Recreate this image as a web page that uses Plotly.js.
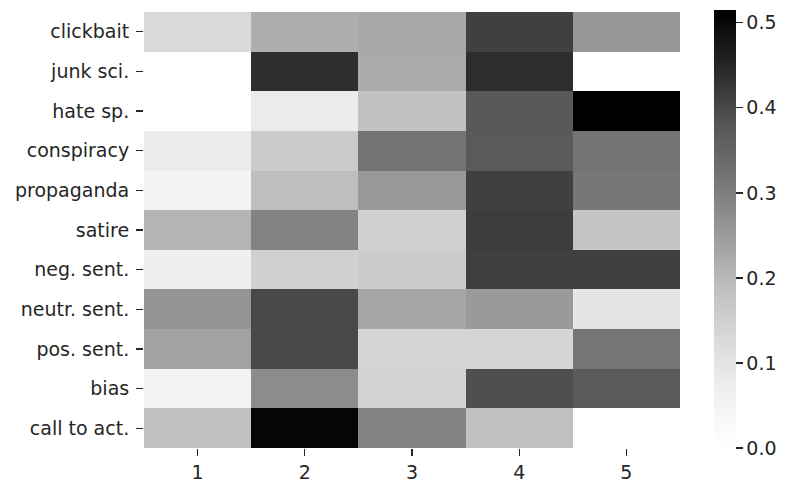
<!DOCTYPE html>
<html>
<head>
<meta charset="utf-8">
<script src="https://cdn.plot.ly/plotly-3.0.1.min.js"></script>
<style>html,body{margin:0;padding:0;background:#fff;}#chart{width:786px;height:488px;}</style>
</head>
<body>
<div id="chart"></div>
<script>
const columns = ['1', '2', '3', '4', '5'];
const rowLabels = ['clickbait', 'junk sci.', 'hate sp.', 'conspiracy', 'propaganda', 'satire',
  'neg. sent.', 'neutr. sent.', 'pos. sent.', 'bias', 'call to act.'];
const clickbait   = [0.129, 0.220, 0.228, 0.412, 0.258];
const junkSci     = [0.000, 0.438, 0.225, 0.439, 0.000];
const hateSp      = [0.000, 0.078, 0.182, 0.374, 0.515];
const conspiracy  = [0.076, 0.163, 0.322, 0.371, 0.322];
const propaganda  = [0.052, 0.191, 0.253, 0.412, 0.315];
const satire      = [0.207, 0.294, 0.149, 0.416, 0.177];
const negSent     = [0.067, 0.149, 0.159, 0.412, 0.412];
const neutrSent   = [0.261, 0.399, 0.233, 0.251, 0.095];
const posSent     = [0.238, 0.399, 0.138, 0.138, 0.318];
const bias        = [0.052, 0.276, 0.143, 0.391, 0.369];
const callToAct   = [0.186, 0.506, 0.292, 0.184, 0.000];
const colorbarTicks = [0.0, 0.1, 0.2, 0.3, 0.4, 0.5];

const z = [clickbait, junkSci, hateSp, conspiracy, propaganda, satire,
  negSent, neutrSent, posSent, bias, callToAct];

const greys = [[0,'#ffffff'],[0.125,'#f0f0f0'],[0.25,'#d9d9d9'],[0.375,'#bdbdbd'],
  [0.5,'#969696'],[0.625,'#737373'],[0.75,'#525252'],[0.875,'#252525'],[1,'#000000']];

const tickFont = {family: 'DejaVu Sans, sans-serif', size: 19, color: '#262626'};

const trace = {
  type: 'heatmap',
  x: columns,
  y: rowLabels,
  z: z,
  zmin: 0,
  zmax: 0.515,
  colorscale: greys,
  xgap: 0, ygap: 0,
  hoverongaps: false,
  colorbar: {
    xref: 'container', x: 714/786, xanchor: 'left', xpad: 0,
    yref: 'paper', y: 0, yanchor: 'bottom', len: 1.005, lenmode: 'fraction', ypad: 0,
    thickness: 22, outlinewidth: 0,
    tickmode: 'array', tickvals: colorbarTicks,
    ticktext: colorbarTicks.map(v => v.toFixed(1)),
    ticks: 'outside', ticklen: 7, tickcolor: '#262626', tickwidth: 1.3,
    tickfont: tickFont
  }
};

const layout = {
  width: 786, height: 488,
  margin: {l: 144, r: 106, t: 12, b: 40, pad: 0},
  paper_bgcolor: '#ffffff', plot_bgcolor: '#ffffff',
  font: tickFont,
  showlegend: false,
  xaxis: {
    type: 'category', showgrid: false, zeroline: false, showline: false,
    ticks: 'outside', ticklen: 7, tickcolor: '#262626', tickwidth: 1.3,
    tickfont: tickFont
  },
  yaxis: {
    type: 'category', autorange: 'reversed', showgrid: false, zeroline: false, showline: false,
    ticks: 'outside', ticklen: 7, tickcolor: '#262626', tickwidth: 1.3,
    ticklabelstandoff: 3,
    tickfont: tickFont
  }
};

Plotly.newPlot('chart', [trace], layout, {displayModeBar: false, staticPlot: true});
</script>
</body>
</html>
